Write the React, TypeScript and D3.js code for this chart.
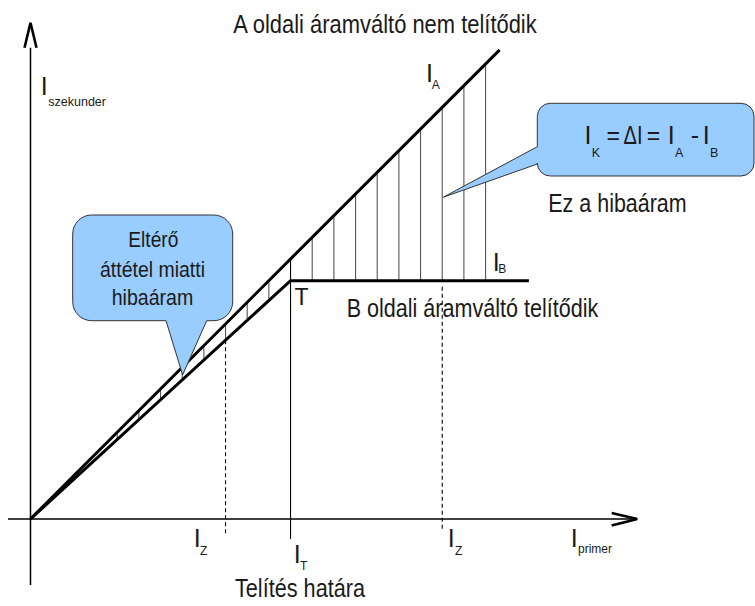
import React from 'react';
import * as d3 from 'd3';

const W = 755;
const H = 606;

// ---- data (arbitrary current units: primary on x, secondary on y) ----
const curveA = [
  { x: 0, y: 0 },
  { x: 21.65, y: 21.65 },
];
const curveB = [
  { x: 0, y: 0 },
  { x: 12, y: 11 },
  { x: 23, y: 11 },
];
const hatchX = [4, 5, 6, 7, 8, 9, 10, 11, 12, 13, 14, 15, 16, 17, 18, 19, 20, 21];
const saturationX = 12;
const zeroErrorX = [9, 19];
const xAxisExtent = [-1.04, 28];
const yAxisExtent = [-3.05, 22.9];
const tipLeft = { x: 7.02, y: 6.65 };
const tipRight = { x: 19.05, y: 14.85 };

const UNIT = 21.67;
const OX = 30.5;
const OY = 519;

const xScale = d3.scaleLinear().domain([0, 28]).range([OX, OX + 28 * UNIT]);
const yScale = d3.scaleLinear().domain([0, 23]).range([OY, OY - 23 * UNIT]);

const valueAt = (curve: { x: number; y: number }[], x: number) => {
  for (let i = 0; i < curve.length - 1; i++) {
    const a = curve[i];
    const b = curve[i + 1];
    if (x >= a.x && x <= b.x) return a.y + ((b.y - a.y) * (x - a.x)) / (b.x - a.x);
  }
  return curve[curve.length - 1].y;
};

const line = d3
  .line<{ x: number; y: number }>()
  .x((d) => xScale(d.x))
  .y((d) => yScale(d.y));

const FONT = "'Liberation Sans', Arial, sans-serif";
const TXT = '#1a1a1a';
const FILL = '#99ccff';

// bubble with tail on bottom edge
function bubbleBottom(x0: number, y0: number, x1: number, y1: number, r: number, xa: number, xb: number, tx: number, ty: number) {
  return `M${x0 + r},${y0} H${x1 - r} A${r},${r} 0 0 1 ${x1},${y0 + r} V${y1 - r} A${r},${r} 0 0 1 ${x1 - r},${y1} H${xb} L${tx},${ty} L${xa},${y1} H${x0 + r} A${r},${r} 0 0 1 ${x0},${y1 - r} V${y0 + r} A${r},${r} 0 0 1 ${x0 + r},${y0} Z`;
}
// bubble with tail on left edge
function bubbleLeft(x0: number, y0: number, x1: number, y1: number, r: number, ya: number, yb: number, tx: number, ty: number) {
  return `M${x0 + r},${y0} H${x1 - r} A${r},${r} 0 0 1 ${x1},${y0 + r} V${y1 - r} A${r},${r} 0 0 1 ${x1 - r},${y1} H${x0 + r} A${r},${r} 0 0 1 ${x0},${y1 - r} V${yb} L${tx},${ty} L${x0},${ya} V${y0 + r} A${r},${r} 0 0 1 ${x0 + r},${y0} Z`;
}

const T = (p: { x: number; y: number; s: number; w?: number; children: string }) => (
  <text
    x={p.x}
    y={p.y}
    fontSize={p.s}
    fontFamily={FONT}
    fill={TXT}
    {...(p.w ? { textLength: p.w, lengthAdjust: 'spacingAndGlyphs' } : {})}
  >
    {p.children}
  </text>
);

export default function App() {
  const tl = { x: xScale(tipLeft.x), y: yScale(tipLeft.y) };
  const tr = { x: xScale(tipRight.x), y: yScale(tipRight.y) };
  const satTop = valueAt(curveA, saturationX);

  return (
    <svg
      width={W}
      height={H}
      viewBox={`0 0 ${W} ${H}`}
      style={{ position: 'absolute', left: 0, top: 0, background: '#fff' }}
    >
      {/* axes */}
      <line x1={xScale(xAxisExtent[0])} x2={xScale(xAxisExtent[1]) - 1} y1={yScale(0)} y2={yScale(0)} stroke="#000" strokeWidth={1.5} />
      <polyline
        points={`${xScale(xAxisExtent[1]) - 25.6},${yScale(0) - 6} ${xScale(xAxisExtent[1])},${yScale(0)} ${xScale(xAxisExtent[1]) - 25.6},${yScale(0) + 6.5}`}
        fill="none"
        stroke="#000"
        strokeWidth={2.6}
      />
      <line x1={xScale(0)} x2={xScale(0)} y1={yScale(yAxisExtent[0])} y2={yScale(yAxisExtent[1]) + 25} stroke="#000" strokeWidth={1.5} />
      <polyline
        points={`${xScale(0) - 6},${yScale(yAxisExtent[1]) + 25} ${xScale(0)},${yScale(yAxisExtent[1])} ${xScale(0) + 6},${yScale(yAxisExtent[1]) + 25}`}
        fill="none"
        stroke="#000"
        strokeWidth={2.6}
      />

      {/* hatching between curves */}
      {hatchX.map((x) => {
        const a = valueAt(curveA, x);
        const b = valueAt(curveB, x);
        if (x === saturationX) return null;
        return (
          <line key={x} x1={xScale(x)} x2={xScale(x)} y1={yScale(a)} y2={yScale(b)} stroke="#555" strokeWidth={1.1} />
        );
      })}

      {/* saturation limit line */}
      <line x1={xScale(saturationX)} x2={xScale(saturationX)} y1={yScale(satTop)} y2={yScale(-0.92)} stroke="#000" strokeWidth={1.1} />

      {/* dashed I_Z lines */}
      {zeroErrorX.map((x, i) => (
        <line
          key={x}
          x1={xScale(x)}
          x2={xScale(x)}
          y1={yScale(valueAt(curveB, x)) + (i === 1 ? 6 : 0)}
          y2={yScale(i === 0 ? -0.75 : -0.5)}
          stroke="#000"
          strokeWidth={1.1}
          strokeDasharray="4,3"
        />
      ))}

      {/* curves */}
      <path d={line(curveA) || ''} fill="none" stroke="#000" strokeWidth={3} />
      <path d={line(curveB) || ''} fill="none" stroke="#000" strokeWidth={3} />

      {/* callouts */}
      <path d={bubbleBottom(72.7, 215, 232.7, 320.7, 19, 166, 206.7, tl.x, tl.y)} fill={FILL} stroke="#333" strokeWidth={1} />
      <path d={bubbleLeft(537.3, 103.3, 754, 176, 13, 146.7, 164, tr.x, tr.y)} fill={FILL} stroke="#333" strokeWidth={1} />

      {/* bubble texts */}
      <T x={128.3} y={246.7} s={22.5} w={50}>Eltérő</T>
      <T x={100} y={277.3} s={22.5} w={105}>áttétel miatti</T>
      <T x={111.7} y={305} s={22.5} w={81.6}>hibaáram</T>

      {/* formula */}
      <T x={584.4} y={144.3} s={25}>I</T>
      <T x={591.7} y={156.7} s={12.5}>K</T>
      <T x={606.5} y={144.3} s={25} w={13.5}>=</T>
      <T x={623.5} y={144.3} s={25} w={19}>ΔI</T>
      <T x={646.8} y={144.3} s={25} w={13.5}>=</T>
      <T x={667.7} y={144.3} s={25}>I</T>
      <T x={675} y={156.7} s={12.5}>A</T>
      <T x={690.8} y={144.3} s={25}>-</T>
      <T x={702.7} y={144.3} s={25}>I</T>
      <T x={710} y={156.7} s={12.5}>B</T>

      {/* annotations */}
      <T x={233.3} y={33.3} s={25} w={303.4}>A oldali áramváltó nem telítődik</T>
      <T x={548.3} y={211.7} s={25} w={138.4}>Ez a hibaáram</T>
      <T x={346.7} y={317.3} s={25} w={251.6}>B oldali áramváltó telítődik</T>
      <T x={235} y={597} s={25} w={130}>Telítés határa</T>
      <T x={294.5} y={305} s={23}>T</T>

      {/* curve labels */}
      <T x={426} y={81.7} s={25}>I</T>
      <T x={431.7} y={89} s={12}>A</T>
      <T x={492.7} y={270.7} s={25}>I</T>
      <T x={498.3} y={273} s={12}>B</T>

      {/* axis labels */}
      <T x={40.7} y={95} s={25}>I</T>
      <T x={48.3} y={106} s={13} w={57.7}>szekunder</T>

      <T x={193.7} y={547} s={25}>I</T>
      <T x={200} y={555} s={12}>Z</T>
      <T x={293.7} y={563} s={25}>I</T>
      <T x={300} y={570} s={12}>T</T>
      <T x={447.7} y={547} s={25}>I</T>
      <T x={455} y={555} s={12}>Z</T>
      <T x={570.7} y={547} s={25}>I</T>
      <T x={578} y={553} s={12} w={34}>primer</T>
    </svg>
  );
}
